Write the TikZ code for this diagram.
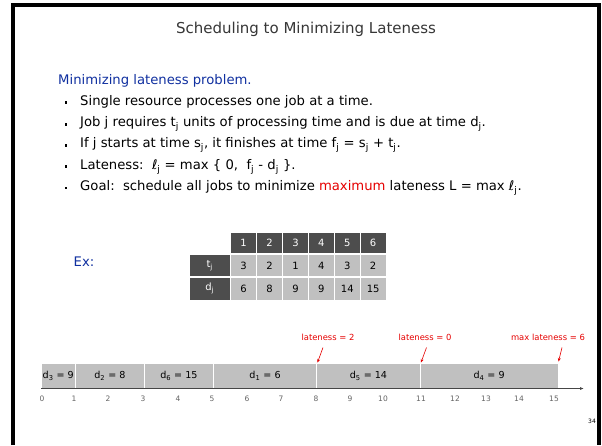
\documentclass[tikz,border=0pt]{standalone}
\usepackage{fontspec}
\setmainfont{DejaVu Sans}
\usetikzlibrary{arrows.meta}
\definecolor{slideblue}{RGB}{16,48,160}
\definecolor{slidered}{RGB}{230,0,0}
\definecolor{darkcell}{RGB}{77,77,77}
\definecolor{lightcell}{RGB}{192,192,192}
\definecolor{titlegray}{RGB}{55,55,55}
\definecolor{tickgray}{RGB}{100,100,100}
\definecolor{axisgray}{RGB}{70,70,70}
\newcommand{\sj}{\textsubscript{j}}
\newcommand{\bodyfont}{\fontsize{13.2}{15}\selectfont}
\tikzset{
  bodytext/.style={anchor=base west, inner sep=0pt, font=\bodyfont},
  bulletsq/.style={fill=black, minimum size=2.8pt, inner sep=0pt},
  hdcell/.style={fill=darkcell, text=white, inner sep=0pt, minimum width=24.9pt, minimum height=20pt, font=\fontsize{10}{12}\selectfont},
  lbcell/.style={fill=darkcell, text=white, inner sep=0pt, minimum width=39.7pt, minimum height=21.4pt, font=\fontsize{10}{12}\selectfont},
  dcell/.style={fill=lightcell, text=black, inner sep=0pt, minimum width=24.9pt, minimum height=21.4pt, font=\fontsize{10}{12}\selectfont},
  seg/.style={fill=lightcell, inner sep=0pt, minimum height=24pt, font=\fontsize{9.6}{12}\selectfont},
  ticklab/.style={text=tickgray, inner sep=0pt, font=\fontsize{7.5}{9}\selectfont},
  latelab/.style={text=slidered, inner sep=0pt, font=\fontsize{8.4}{10}\selectfont},
  latearrow/.style={draw=slidered, line width=0.6pt, -{Stealth[length=3.5pt,width=3pt]}}
}
\begin{document}
\begin{tikzpicture}[x=1pt,y=-1pt]
\useasboundingbox (0,0) rectangle (602,445);
\fill[white] (0,0) rectangle (602,445);
% frame
\draw[line width=3.5pt] (13,445) -- (13,5) -- (599,5) -- (599,445);
% title
\node[font=\fontsize{15}{18}\selectfont, text=titlegray] (title) at (306,29) {Scheduling to Minimizing Lateness};
% heading and bullets
\node[bodytext, text=slideblue] (head) at (58,84) {Minimizing lateness problem.};
\node[bodytext] (l1) at (80,105.3) {Single resource processes one job at a time.};
\node[bodytext] (l2) at (80,126.6) {Job j requires t\sj{} units of processing time and is due at time d\sj.};
\node[bodytext] (l3) at (80,147.9) {If j starts at time s\sj, it finishes at time f\sj{} = s\sj{} + t\sj.};
\node[bodytext] (l4) at (80,169.2) {Lateness:\ \ ℓ\sj{} = max \{ 0,\ \ f\sj{} - d\sj{} \}.};
\node[bodytext] (l5) at (80,190.5) {Goal:\ \ schedule all jobs to minimize \textcolor{slidered}{maximum} lateness L = max ℓ\sj.};
\foreach \i/\yy in {1/102.8, 2/124.1, 3/145.4, 4/166.7, 5/188}
  \node[bulletsq] (bul\i) at (66,\yy) {};
% Ex
\node[text=slideblue, font=\bodyfont] (ex) at (84,262) {Ex:};
% table
\foreach \c in {1,...,6}{
  \node[hdcell] (h\c) at ({230.7+25.9*(\c-0.5)},242.8) {\c};
}
\node[lbcell] (lt) at (209.7,265.5) {t\sj};
\node[lbcell] (ld) at (209.7,288.8) {d\sj};
\foreach \c/\t/\d in {1/3/6, 2/2/8, 3/1/9, 4/4/9, 5/3/14, 6/2/15}{
  \node[dcell] (t\c) at ({230.7+25.9*(\c-0.5)},265.5) {\t};
  \node[dcell] (d\c) at ({230.7+25.9*(\c-0.5)},288.8) {\d};
}
% timeline segments
\foreach \n/\a/\b/\lab in {s3/0/1/{d\textsubscript{3} = 9}, s2/1/3/{d\textsubscript{2} = 8}, s6/3/5/{d\textsubscript{6} = 15}, s1/5/8/{d\textsubscript{1} = 6}, s5/8/11/{d\textsubscript{5} = 14}, s4/11/15/{d\textsubscript{4} = 9}}{
  \node[seg, minimum width={34.47*(\b-\a)-1}] (\n) at ({41+34.47*(\a+\b)/2},376) {\lab};
}
% axis
\coordinate (ax0) at (41,388.5);
\coordinate (ax1) at (584,388.5);
\draw[axisgray, line width=0.9pt, -{Latex[length=4pt,width=3pt]}] (ax0) -- (ax1);
\foreach \i/\xx in {0/42,1/74,2/108,3/143,4/178,5/212,6/247,7/281,8/316,9/350,10/383,11/421,12/455,13/486,14/519,15/554}
  \node[ticklab] (tk\i) at (\xx,398.5) {\i};
% lateness labels
\node[latelab] (lat2) at (328,337) {lateness = 2};
\node[latelab] (lat0) at (425,337) {lateness = 0};
\node[latelab] (latm) at (548,337) {max lateness = 6};
\coordinate (a2s) at (323,347.5);
\coordinate (a2e) at (317.5,362.5);
\coordinate (a0s) at (426.5,347.5);
\coordinate (a0e) at (421,362.5);
\coordinate (ams) at (562,347.5);
\coordinate (ame) at (558.5,361.5);
\draw[latearrow] (a2s) -- (a2e);
\draw[latearrow] (a0s) -- (a0e);
\draw[latearrow] (ams) -- (ame);
% page number
\node[font=\fontsize{6}{7}\selectfont, inner sep=0pt] (pg) at (592,421) {34};
\end{tikzpicture}
\end{document}
